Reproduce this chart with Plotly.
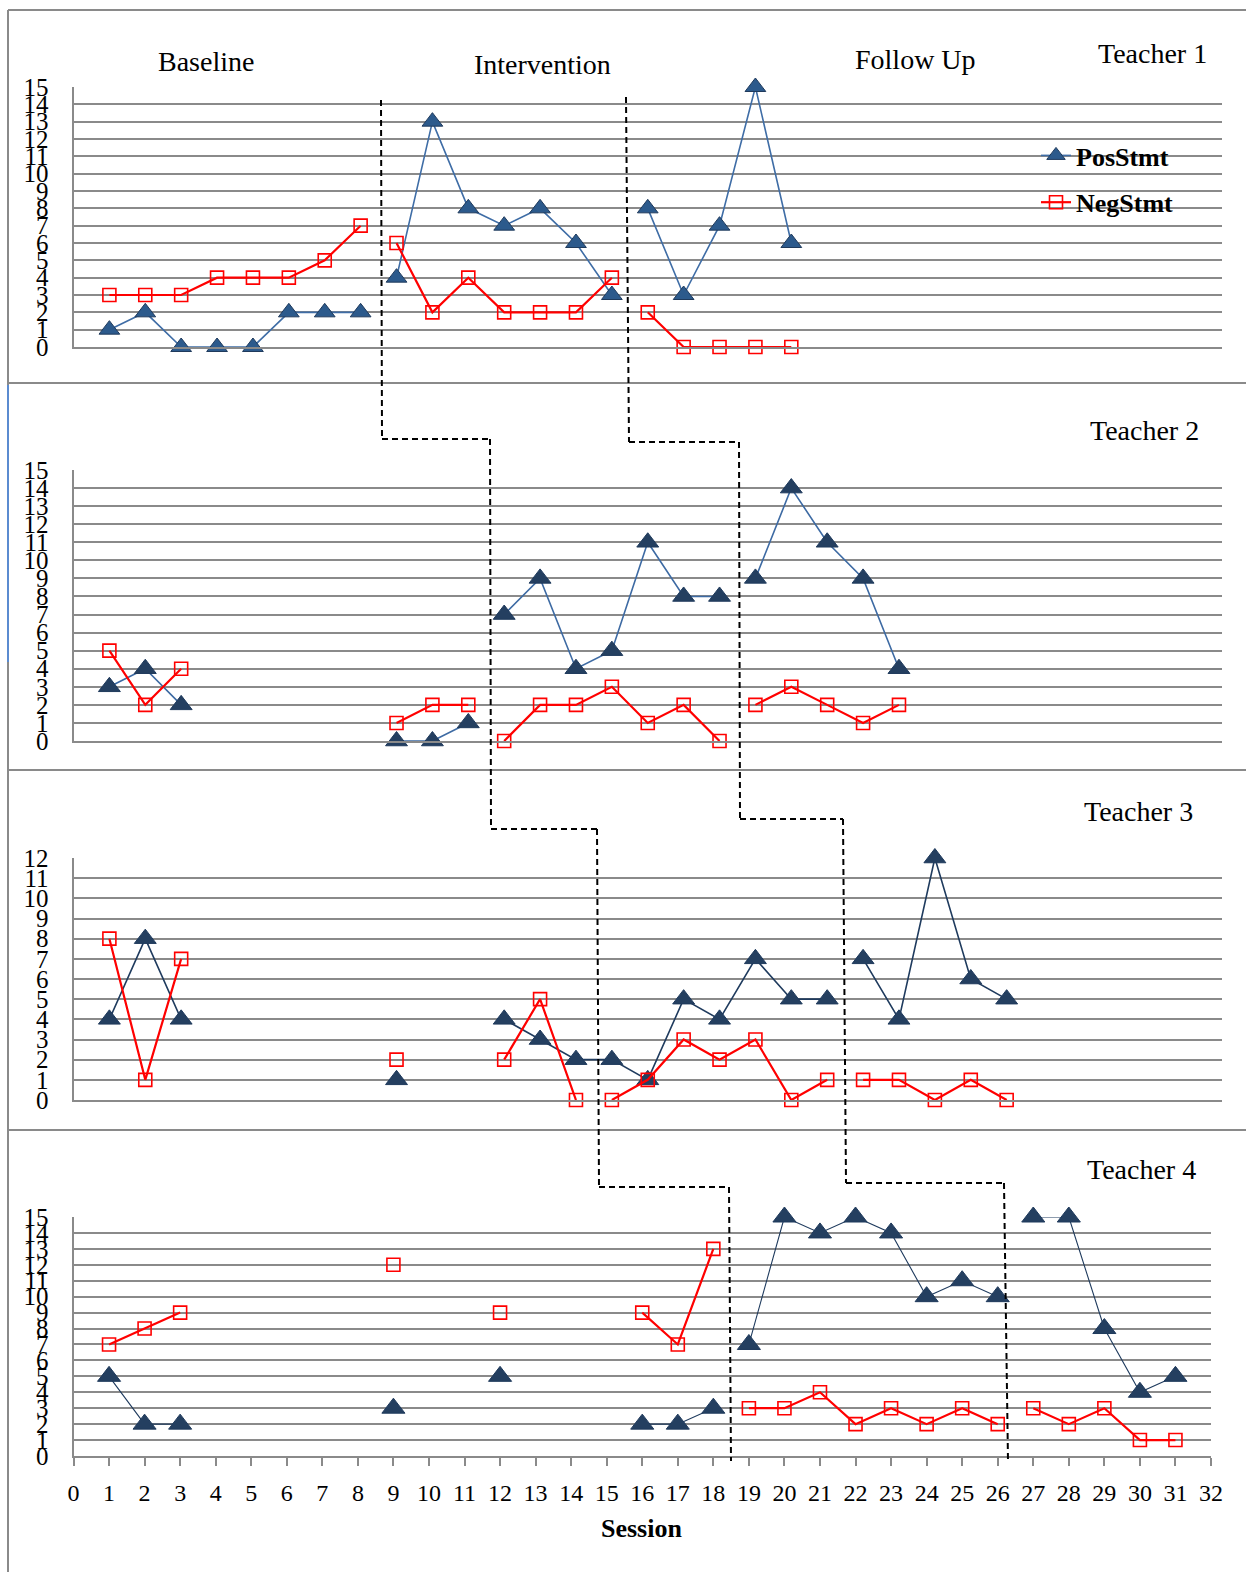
import plotly.graph_objects as go

# ---------------- data ----------------
# Teacher 1 (None = break in the line between phases)
t1_x   = [1, 2, 3, 4, 5, 6, 7, 8, None, 9, 10, 11, 12, 13, 14, 15, None, 16, 17, 18, 19, 20]
t1_pos = [1, 2, 0, 0, 0, 2, 2, 2, None, 4, 13, 8, 7, 8, 6, 3, None, 8, 3, 7, 15, 6]
t1_neg = [3, 3, 3, 4, 4, 4, 5, 7, None, 6, 2, 4, 2, 2, 2, 4, None, 2, 0, 0, 0, 0]

# Teacher 2
t2_x   = [1, 2, 3, None, 9, 10, 11, None, 12, 13, 14, 15, 16, 17, 18, None, 19, 20, 21, 22, 23]
t2_pos = [3, 4, 2, None, 0, 0, 1, None, 7, 9, 4, 5, 11, 8, 8, None, 9, 14, 11, 9, 4]
t2_neg = [5, 2, 4, None, 1, 2, 2, None, 0, 2, 2, 3, 1, 2, 0, None, 2, 3, 2, 1, 2]

# Teacher 3
t3_pos_x = [1, 2, 3, None, 9, None, 12, 13, 14, 15, 16, 17, 18, 19, 20, 21, None, 22, 23, 24, 25, 26]
t3_pos   = [4, 8, 4, None, 1, None, 4, 3, 2, 2, 1, 5, 4, 7, 5, 5, None, 7, 4, 12, 6, 5]
t3_neg_x = [1, 2, 3, None, 9, None, 12, 13, 14, None, 15, 16, 17, 18, 19, 20, 21, None, 22, 23, 24, 25, 26]
t3_neg   = [8, 1, 7, None, 2, None, 2, 5, 0, None, 0, 1, 3, 2, 3, 0, 1, None, 1, 1, 0, 1, 0]

# Teacher 4
t4_x   = [1, 2, 3, None, 9, None, 12, None, 16, 17, 18, None, 19, 20, 21, 22, 23, 24, 25, 26, None, 27, 28, 29, 30, 31]
t4_pos = [5, 2, 2, None, 3, None, 5, None, 2, 2, 3, None, 7, 15, 14, 15, 14, 10, 11, 10, None, 15, 15, 8, 4, 5]
t4_neg = [7, 8, 9, None, 12, None, 9, None, 9, 7, 13, None, 3, 3, 4, 2, 3, 2, 3, 2, None, 3, 2, 3, 1, 1]

y_max = [15, 15, 12, 15]
x_ticks = list(range(0, 33))
phase_labels = ["Baseline", "Intervention", "Follow Up"]
teacher_labels = ["Teacher 1", "Teacher 2", "Teacher 3", "Teacher 4"]
series_names = ["PosStmt", "NegStmt"]

# ---------------- layout helpers ----------------
W, H = 1246, 1572
FONT = "Liberation Serif"
GRID = "#8a8a8a"


def fx(p):
    return p / W


def fy(p):
    return 1 - p / H


# plot-area pixel boxes: (top, bottom, right)
panels = [(87, 347, 1222), (470, 741, 1222), (858, 1100, 1222), (1217, 1456, 1211)]

pos_line = ["#3F6DA6", "#3D6AA3", "#1F3B5E", "#1F3B5E"]
pos_fill = ["#2C5A8C", "#243F60", "#243F60", "#243F60"]
pos_lw = [1.6, 1.6, 1.6, 1.1]
tri_size = [18, 19, 19, 20]

data_sets = [
    (t1_x, t1_pos, t1_x, t1_neg),
    (t2_x, t2_pos, t2_x, t2_neg),
    (t3_pos_x, t3_pos, t3_neg_x, t3_neg),
    (t4_x, t4_pos, t4_x, t4_neg),
]

fig = go.Figure()

for i, (px_, py_, nx_, ny_) in enumerate(data_sets):
    ax = "" if i == 0 else str(i + 1)
    fig.add_trace(go.Scatter(
        x=px_, y=py_, xaxis="x" + ax, yaxis="y" + ax,
        mode="lines+markers", name=series_names[0],
        legendgroup="pos", showlegend=(i == 0),
        line=dict(color=pos_line[i], width=pos_lw[i]),
        marker=dict(symbol="triangle-up", size=tri_size[i], color=pos_fill[i],
                    line=dict(color="#1F3A5C", width=1)),
        cliponaxis=False, hoverinfo="skip",
    ))
    fig.add_trace(go.Scatter(
        x=nx_, y=ny_, xaxis="x" + ax, yaxis="y" + ax,
        mode="lines+markers", name=series_names[1],
        legendgroup="neg", showlegend=(i == 0),
        line=dict(color="#FF0000", width=2.2),
        marker=dict(symbol="square-open", size=13, color="#FF0000",
                    line=dict(color="#FF0000", width=1.6)),
        cliponaxis=False, hoverinfo="skip",
    ))

layout = dict(
    template="none",
    width=W, height=H,
    autosize=False,
    margin=dict(l=0, r=0, t=0, b=0, pad=0, autoexpand=False),
    paper_bgcolor="white", plot_bgcolor="white",
    font=dict(family=FONT, color="black"),
    showlegend=True,
    legend=dict(
        x=fx(1036), y=fy(132), xanchor="left", yanchor="top",
        bgcolor="rgba(0,0,0,0)", borderwidth=0,
        font=dict(family=FONT, size=26, color="black", weight="bold"),
        tracegroupgap=10, traceorder="grouped", itemwidth=30,
    ),
)

for i, (top, bot, right) in enumerate(panels):
    sfx = "" if i == 0 else str(i + 1)
    last = (i == 3)
    layout["xaxis" + sfx] = dict(
        domain=[fx(73.5), fx(right)], range=[0, 32],
        anchor="y" + sfx, automargin=False,
        showgrid=False, zeroline=False,
        showline=True, linecolor=GRID, linewidth=2,
        tickmode="array", tickvals=x_ticks, ticktext=[str(v) for v in x_ticks],
        showticklabels=last,
        ticks="outside" if last else "", ticklen=8, tickwidth=2, tickcolor=GRID,
        tickfont=dict(family=FONT, size=24, color="black"),
        ticklabelstandoff=6,
        fixedrange=True,
    )
    layout["yaxis" + sfx] = dict(
        domain=[fy(bot), fy(top)], range=[0, y_max[i]],
        anchor="x" + sfx, automargin=False,
        tickmode="linear", tick0=0, dtick=1,
        showgrid=True, gridcolor=GRID, gridwidth=2,
        zeroline=False,
        showline=True, linecolor=GRID, linewidth=2,
        ticks="",
        tickfont=dict(family=FONT, size=25, color="black"),
        ticklabelstandoff=18,
        fixedrange=True,
    )

fig.update_layout(**layout)

# ---------------- text ----------------
ann = []
for txt, (cx, cy) in zip(phase_labels, [(206, 61), (542, 64), (915, 60)]):
    ann.append(dict(text=txt, x=fx(cx), y=fy(cy), xref="paper", yref="paper",
                    xanchor="center", yanchor="middle", showarrow=False,
                    font=dict(family=FONT, size=28, color="black")))
for txt, (cx, cy) in zip(teacher_labels, [(1152, 53), (1144, 430), (1138, 811), (1141, 1169)]):
    ann.append(dict(text=txt, x=fx(cx), y=fy(cy), xref="paper", yref="paper",
                    xanchor="center", yanchor="middle", showarrow=False,
                    font=dict(family=FONT, size=28, color="black")))
ann.append(dict(text="<b>Session</b>", x=fx(641), y=fy(1528), xref="paper", yref="paper",
                xanchor="center", yanchor="middle", showarrow=False,
                font=dict(family=FONT, size=26, color="black")))
fig.update_layout(annotations=ann)

# ---------------- frame & phase-change lines ----------------
shapes = []


def seg(x0, y0, x1, y1, color=GRID, width=2, dash="solid"):
    shapes.append(dict(type="line", xref="paper", yref="paper",
                       x0=fx(x0), y0=fy(y0), x1=fx(x1), y1=fy(y1),
                       line=dict(color=color, width=width, dash=dash), layer="above"))


# outer frame and panel separators
seg(8, 10, W, 10)
seg(8, 10, 8, H)
for yy in (383, 770, 1130):
    seg(8, yy, W, yy)
seg(8, 385, 8, 662, color="#5B8BD0", width=2)

# staircase phase lines (pixel positions)
stair_a = [(381, 100), (382, 439), (490, 439), (491, 829), (597, 829), (599, 1187), (729, 1187), (731, 1461)]
stair_b = [(626, 97), (629, 442), (739, 442), (740, 819), (843, 819), (846, 1183), (1004, 1183), (1008, 1461)]
for stair in (stair_a, stair_b):
    for (xa, ya), (xb, yb) in zip(stair[:-1], stair[1:]):
        seg(xa, ya, xb, yb, color="black", width=2, dash="6px,4px")

fig.update_layout(shapes=shapes)

fig.write_html(
    "out.html",
    config={"displayModeBar": False},
    post_script="document.body.style.margin='0px';document.body.style.overflow='hidden';",
)
